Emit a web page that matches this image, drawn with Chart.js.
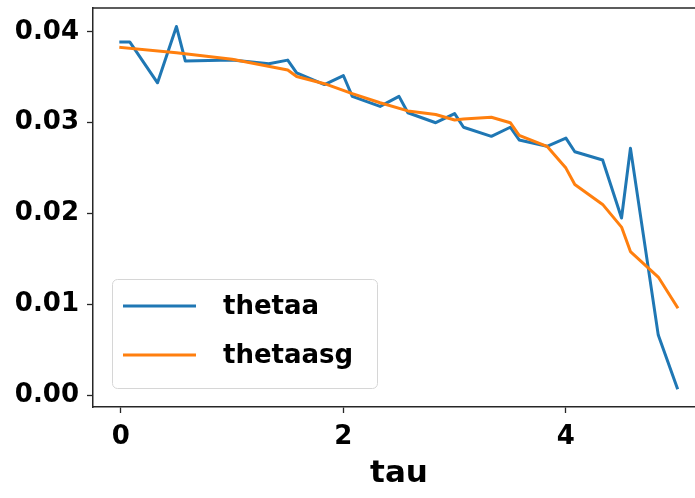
<!DOCTYPE html>
<html>
<head>
<meta charset="utf-8">
<script src="https://cdn.jsdelivr.net/npm/chart.js@4/dist/chart.umd.min.js"></script>
<style>
  html, body { margin: 0; padding: 0; overflow: hidden; background: #fff; width: 695px; height: 498px; }
  canvas { display: block; }
</style>
</head>
<body>
<canvas id="c" width="720" height="498"></canvas>
<script>
// thetaa: raw estimate along tau
const tauA = [0, 0.08, 0.33, 0.5, 0.58, 1.0, 1.33, 1.5, 1.58, 1.83, 2.0, 2.08, 2.33, 2.5, 2.58, 2.83, 3.0, 3.08, 3.33, 3.5, 3.58, 3.83, 4.0, 4.08, 4.33, 4.5, 4.58, 4.83, 5.0];
const thetaa = [0.0389, 0.0389, 0.0344, 0.0406, 0.0368, 0.0369, 0.0365, 0.0369, 0.0355, 0.0342, 0.0352, 0.0329, 0.0318, 0.0329, 0.0311, 0.0300, 0.0310, 0.0295, 0.0285, 0.0295, 0.0281, 0.0274, 0.0283, 0.0268, 0.0259, 0.0195, 0.0272, 0.0066, 0.0008];

// thetaasg: smoothed estimate along tau
const tauSg = [0, 0.5, 1.0, 1.5, 1.58, 1.83, 2.08, 2.33, 2.58, 2.83, 3.0, 3.08, 3.33, 3.5, 3.58, 3.83, 4.0, 4.08, 4.33, 4.5, 4.58, 4.83, 5.0];
const thetaasg = [0.0383, 0.0377, 0.0370, 0.0358, 0.0351, 0.0343, 0.0332, 0.0322, 0.0313, 0.0309, 0.0303, 0.0304, 0.0306, 0.0300, 0.0286, 0.0274, 0.0250, 0.0232, 0.0210, 0.0185, 0.0158, 0.0130, 0.0097];

const xTicks = [0, 2, 4];
const yTicks = [0.00, 0.01, 0.02, 0.03, 0.04];

const BLUE = '#1f77b4';
const ORANGE = '#ff7f0e';
const FONT = 'DejaVu Sans';
const SPINE = '#262626';

const toPoints = (xs, ys) => xs.map((x, i) => ({ x: x, y: ys[i] }));

// top spine plus a framed legend in the lower-left corner of the axes
const framePlugin = {
  id: 'frame',
  afterDraw(chart) {
    const ctx = chart.ctx;
    const ca = chart.chartArea;
    ctx.save();
    ctx.strokeStyle = SPINE;
    ctx.lineWidth = 1.5;
    ctx.beginPath();
    ctx.moveTo(ca.left - 0.75, ca.top);
    ctx.lineTo(ca.right + 0.75, ca.top);
    ctx.stroke();

    const bx = ca.left + 19, by = ca.bottom - 128, bw = 265, bh = 109;
    ctx.beginPath();
    ctx.roundRect(bx + 0.5, by + 0.5, bw, bh, 5);
    ctx.fillStyle = 'rgba(255,255,255,0.8)';
    ctx.fill();
    ctx.strokeStyle = '#d6d6d6';
    ctx.lineWidth = 1;
    ctx.stroke();

    const items = chart.data.datasets.slice().sort((a, b) => a.legendIndex - b.legendIndex);
    items.forEach((ds, i) => {
      const y = by + 27 + i * 49;
      ctx.strokeStyle = ds.borderColor;
      ctx.lineWidth = 3;
      ctx.lineCap = 'butt';
      ctx.beginPath();
      ctx.moveTo(bx + 11, y);
      ctx.lineTo(bx + 84, y);
      ctx.stroke();
      ctx.fillStyle = '#000';
      ctx.font = 'bold 26px "' + FONT + '"';
      ctx.textBaseline = 'middle';
      ctx.textAlign = 'left';
      ctx.fillText(ds.label, bx + 111, y + 1);
    });
    ctx.restore();
  }
};

new Chart(document.getElementById('c'), {
  type: 'line',
  data: {
    datasets: [
      {
        label: 'thetaasg',
        legendIndex: 1,
        data: toPoints(tauSg, thetaasg),
        borderColor: ORANGE,
        backgroundColor: ORANGE,
        borderWidth: 3,
        pointRadius: 0,
        tension: 0,
        borderJoinStyle: 'round',
        borderCapStyle: 'square',
        fill: false
      },
      {
        label: 'thetaa',
        legendIndex: 0,
        data: toPoints(tauA, thetaa),
        borderColor: BLUE,
        backgroundColor: BLUE,
        borderWidth: 3,
        pointRadius: 0,
        tension: 0,
        borderJoinStyle: 'round',
        borderCapStyle: 'square',
        fill: false
      }
    ]
  },
  options: {
    responsive: false,
    animation: false,
    layout: { padding: { top: 8, right: 15, left: 0, bottom: 0 } },
    plugins: {
      legend: { display: false },
      tooltip: { enabled: false }
    },
    scales: {
      x: {
        type: 'linear',
        min: -0.25,
        max: 5.25,
        afterBuildTicks: (scale) => { scale.ticks = xTicks.map(v => ({ value: v })); },
        afterFit: (scale) => { scale.height = 91; scale.paddingLeft = 0; scale.paddingRight = 0; },
        ticks: {
          color: '#000',
          font: { family: FONT, size: 26, weight: 'bold' },
          padding: 9,
          maxRotation: 0,
          callback: (v) => String(v)
        },
        grid: {
          drawOnChartArea: false,
          drawTicks: true,
          tickLength: 6,
          tickWidth: 1.3,
          tickColor: SPINE
        },
        border: { display: true, color: SPINE, width: 1.5 },
        title: {
          display: true,
          text: 'tau',
          color: '#000',
          font: { family: FONT, size: 31, weight: 'bold' },
          padding: { top: 0, bottom: 5 }
        }
      },
      y: {
        type: 'linear',
        min: -0.00132,
        max: 0.04264,
        afterBuildTicks: (scale) => { scale.ticks = yTicks.map(v => ({ value: v })); },
        afterFit: (scale) => { scale.width = 93; scale.paddingTop = 0; scale.paddingBottom = 0; },
        ticks: {
          color: '#000',
          font: { family: FONT, size: 26, weight: 'bold' },
          padding: 8,
          callback: (v) => Number(v).toFixed(2)
        },
        grid: {
          drawOnChartArea: false,
          drawTicks: true,
          tickLength: 6,
          tickWidth: 1.3,
          tickColor: SPINE
        },
        border: { display: true, color: SPINE, width: 1.5 }
      }
    }
  },
  plugins: [framePlugin]
});
</script>
</body>
</html>
